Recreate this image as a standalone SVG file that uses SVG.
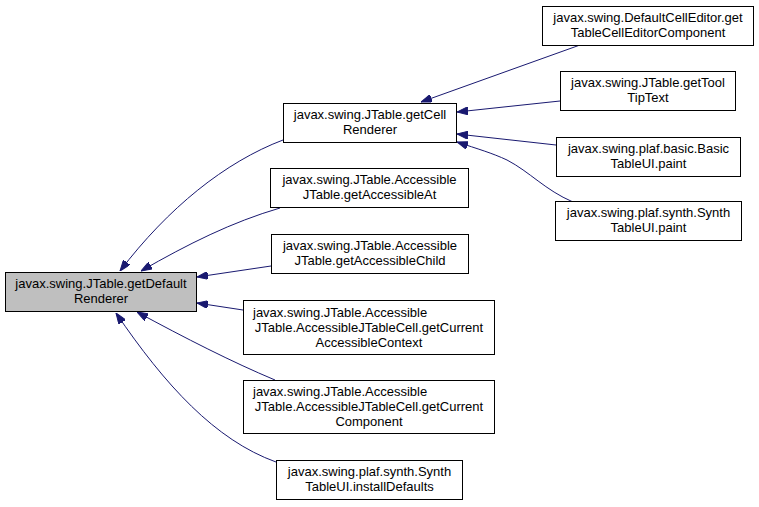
<svg xmlns="http://www.w3.org/2000/svg" width="759" height="507" viewBox="0 0 759 507">
<style>
.n rect{fill:#fff;stroke:#000;stroke-width:1}
.n.main rect{fill:#bfbfbf}
.n text{font-family:"Liberation Sans",Arial,sans-serif;font-size:13px;fill:#000;text-anchor:middle}
.n text.l{text-anchor:start}
.e path{fill:none;stroke:#191970;stroke-width:1}
</style>
<defs>
<marker id="ah" viewBox="0 0 11 8" refX="11" refY="4" markerWidth="11" markerHeight="8" markerUnits="userSpaceOnUse" orient="auto">
<path d="M0,0 L11,4 L0,8 z" fill="#191970" stroke="#191970" stroke-width="1"/>
</marker>
</defs>
<rect width="759" height="507" fill="#fff"/>
<g id="edges" class="e">
<path marker-end="url(#ah)" d="M283,140 C225,162 168,208 120,271"/>
<path marker-end="url(#ah)" d="M280,208 C232,222 188,244 141,271"/>
<path marker-end="url(#ah)" d="M271,266 L197,277"/>
<path marker-end="url(#ah)" d="M243,310 L197,303"/>
<path marker-end="url(#ah)" d="M275,380 C232,362 185,338 137,312"/>
<path marker-end="url(#ah)" d="M276,462 C215,440 165,385 116,313"/>
<path marker-end="url(#ah)" d="M580,45 L421,102"/>
<path marker-end="url(#ah)" d="M560,101 L457,112"/>
<path marker-end="url(#ah)" d="M556,145 L457,134"/>
<path marker-end="url(#ah)" d="M573,202 C545,190 530,172 507,160 C492,153 478,149 457,142"/>
</g>
<g id="node_main" class="n main">
<rect x="5.5" y="272.5" width="191" height="39"/>
<text x="101" y="288">javax.swing.JTable.getDefault</text>
<text x="101" y="303">Renderer</text>
</g>
<g id="node_getCellRenderer" class="n">
<rect x="283.5" y="103.5" width="173" height="39"/>
<text x="370" y="119">javax.swing.JTable.getCell</text>
<text x="370" y="134">Renderer</text>
</g>
<g id="node_getAccessibleAt" class="n">
<rect x="270.5" y="168.5" width="198" height="39"/>
<text x="369.5" y="184">javax.swing.JTable.Accessible</text>
<text x="369.5" y="199">JTable.getAccessibleAt</text>
</g>
<g id="node_getAccessibleChild" class="n">
<rect x="271.5" y="234.5" width="197" height="39"/>
<text x="370" y="250">javax.swing.JTable.Accessible</text>
<text x="370" y="265">JTable.getAccessibleChild</text>
</g>
<g id="node_getCurrentAccessibleContext" class="n">
<rect x="243.5" y="300.5" width="251" height="54"/>
<text class="l" x="253" y="316.5">javax.swing.JTable.Accessible</text>
<text x="369" y="331.5">JTable.AccessibleJTableCell.getCurrent</text>
<text x="369" y="346.5">AccessibleContext</text>
</g>
<g id="node_getCurrentComponent" class="n">
<rect x="243.5" y="380.5" width="251" height="53"/>
<text class="l" x="253" y="396">javax.swing.JTable.Accessible</text>
<text x="369" y="411">JTable.AccessibleJTableCell.getCurrent</text>
<text x="369" y="426">Component</text>
</g>
<g id="node_installDefaults" class="n">
<rect x="276.5" y="460.5" width="186" height="39"/>
<text x="369.5" y="476">javax.swing.plaf.synth.Synth</text>
<text x="369.5" y="491">TableUI.installDefaults</text>
</g>
<g id="node_DefaultCellEditor" class="n">
<rect x="542.5" y="6.5" width="211" height="39"/>
<text x="648" y="22">javax.swing.DefaultCellEditor.get</text>
<text x="648" y="37">TableCellEditorComponent</text>
</g>
<g id="node_getToolTipText" class="n">
<rect x="560.5" y="71.5" width="175" height="39"/>
<text x="648" y="87">javax.swing.JTable.getTool</text>
<text x="648" y="102">TipText</text>
</g>
<g id="node_BasicTableUI_paint" class="n">
<rect x="556.5" y="137.5" width="184" height="39"/>
<text x="648.5" y="153">javax.swing.plaf.basic.Basic</text>
<text x="648.5" y="168">TableUI.paint</text>
</g>
<g id="node_SynthTableUI_paint" class="n">
<rect x="555.5" y="201.5" width="186" height="39"/>
<text x="648.5" y="217">javax.swing.plaf.synth.Synth</text>
<text x="648.5" y="232">TableUI.paint</text>
</g>
</svg>
